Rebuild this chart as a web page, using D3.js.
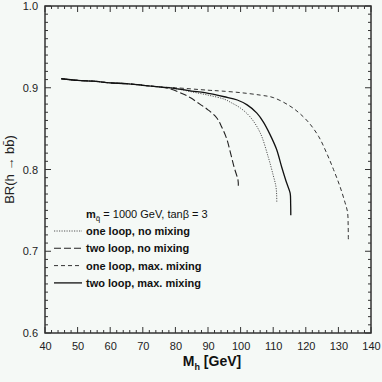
<!DOCTYPE html>
<html>
<head>
<meta charset="utf-8">
<script src="https://cdn.jsdelivr.net/npm/d3@7"></script>
<style>
  body { margin: 0; background: #f5f9f6; }
  svg { display: block; font-family: "Liberation Sans", Arial, sans-serif; }
</style>
</head>
<body>
<div id="chart"></div>
<script>
// set the dimensions and margins of the graph
var margin = {top: 6, right: 11, bottom: 49, left: 45},
    width = 382 - margin.left - margin.right,
    height = 382 - margin.top - margin.bottom;

// data: [M_h, BR]
var oneLoopNoMix = [[45,0.911],[50,0.909],[55,0.908],[60,0.906],[65,0.905],[70,0.903],[75,0.901],[80,0.899],
  [85,0.895],[90,0.891],[95,0.886],[97,0.882],[100,0.875],[103,0.864],[106,0.845],[108.5,0.815],
  [110,0.793],[110.8,0.780],[111.05,0.770],[111.1,0.759]];
var twoLoopNoMix = [[45,0.911],[50,0.909],[55,0.908],[60,0.906],[65,0.905],[70,0.903],[75,0.901],[78,0.899],
  [82,0.893],[84.5,0.888],[87.5,0.880],[90,0.873],[92.7,0.863],[94.2,0.852],[95.7,0.838],[96.8,0.822],
  [98,0.803],[99.2,0.787],[99.3,0.780]];
var oneLoopMaxMix = [[45,0.911],[50,0.909],[55,0.908],[60,0.906],[65,0.905],[70,0.903],[75,0.901],[80,0.900],
  [90,0.897],[94,0.896],[100,0.894],[106,0.891],[110,0.888],[115,0.878],[118,0.869],[121,0.857],
  [124,0.840],[126.4,0.820],[128.5,0.800],[130.5,0.779],[132,0.760],[132.8,0.748],[133,0.730],[133.05,0.712]];
var twoLoopMaxMix = [[45,0.911],[50,0.909],[55,0.908],[60,0.906],[65,0.905],[70,0.903],[75,0.901],[80,0.899],
  [85,0.896],[89,0.894],[95,0.889],[99,0.885],[102,0.879],[105,0.869],[107,0.858],[109,0.843],
  [111,0.825],[112.6,0.803],[114,0.785],[115.2,0.771],[115.35,0.758],[115.4,0.744]];

var seriesNames = ["one loop, no mixing", "two loop, no mixing", "one loop, max. mixing", "two loop, max. mixing"];
var seriesData = [oneLoopNoMix, twoLoopNoMix, oneLoopMaxMix, twoLoopMaxMix];
var dashes = ["1.2,1.3", "7,3", "4,3", null];
var strokes = ["#555", "#222", "#333", "#111"];
var widths = [1, 1.1, 1, 1.3];

var xTicks = [40,50,60,70,80,90,100,110,120,130,140];
var yTicks = [0.6,0.7,0.8,0.9,1.0];

var svg = d3.select("#chart")
  .append("svg")
    .attr("width", width + margin.left + margin.right)
    .attr("height", height + margin.top + margin.bottom)
  .append("g")
    .attr("transform", "translate(" + margin.left + "," + margin.top + ")");

var x = d3.scaleLinear().domain([40, 140]).range([0, width]);
var y = d3.scaleLinear().domain([0.6, 1.0]).range([height, 0]);

// ticks on all four sides, pointing inward
var xMinor = d3.range(40, 140.1, 2);
var yMinor = d3.range(0.6, 1.0001, 0.01);

function tickAxes() {
  var g = svg.append("g").attr("class", "ticks").attr("stroke", "#333").attr("stroke-width", 1);
  xMinor.forEach(function(v) {
    var major = Math.abs(v % 10) < 1e-6;
    var len = major ? 6 : 3;
    g.append("line").attr("x1", x(v)).attr("x2", x(v)).attr("y1", height).attr("y2", height - len);
    g.append("line").attr("x1", x(v)).attr("x2", x(v)).attr("y1", 0).attr("y2", len);
  });
  yMinor.forEach(function(v, i) {
    var major = i % 10 === 0;
    var len = major ? 6 : 3;
    g.append("line").attr("y1", y(v)).attr("y2", y(v)).attr("x1", 0).attr("x2", len);
    g.append("line").attr("y1", y(v)).attr("y2", y(v)).attr("x1", width).attr("x2", width - len);
  });
}
tickAxes();

// tick labels via d3 axes
svg.append("g")
  .attr("transform", "translate(0," + height + ")")
  .call(d3.axisBottom(x).tickValues(xTicks).tickSize(0).tickPadding(9).tickFormat(d3.format("d")))
  .call(function(g) { g.select(".domain").remove(); })
  .selectAll("text").attr("font-size", 11).attr("fill", "#222");

svg.append("g")
  .call(d3.axisLeft(y).tickValues(yTicks).tickSize(0).tickPadding(7).tickFormat(d3.format(".1f")))
  .call(function(g) { g.select(".domain").remove(); })
  .selectAll("text").attr("font-size", 11).attr("fill", "#222");

// frame
svg.append("rect")
  .attr("width", width).attr("height", height)
  .attr("fill", "none").attr("stroke", "#333").attr("stroke-width", 1.5);

// curves
var line = d3.line()
  .x(function(d) { return x(d[0]); })
  .y(function(d) { return y(d[1]); })
  .curve(d3.curveCatmullRom.alpha(0.5));

svg.selectAll(".curve")
  .data(seriesData)
  .enter().append("path")
    .attr("class", "curve")
    .attr("d", line)
    .attr("fill", "none")
    .attr("stroke", function(d, i) { return strokes[i]; })
    .attr("stroke-width", function(d, i) { return widths[i]; })
    .attr("stroke-dasharray", function(d, i) { return dashes[i]; });

// legend
var legend = svg.append("g").attr("transform", "translate(9,212)");
var head = legend.append("text").attr("x", 32).attr("y", 0)
  .attr("font-size", 11).attr("fill", "#111");
head.append("tspan").attr("font-weight", "bold").text("m");
head.append("tspan").attr("font-size", 8).attr("dy", 3).text("q\u0303");
head.append("tspan").attr("dy", -3).text(" = 1000 GeV, tan\u03b2 = 3");

var items = legend.selectAll(".item")
  .data(seriesNames)
  .enter().append("g")
    .attr("class", "item")
    .attr("transform", function(d, i) { return "translate(0," + (17 + i * 17.3) + ")"; });

items.append("line")
  .attr("x1", 0).attr("x2", 28).attr("y1", -4).attr("y2", -4)
  .attr("stroke", function(d, i) { return strokes[i]; })
  .attr("stroke-width", function(d, i) { return widths[i]; })
  .attr("stroke-dasharray", function(d, i) { return dashes[i]; });

items.append("text")
  .attr("x", 32).attr("y", 0)
  .attr("font-size", 11).attr("font-weight", "bold").attr("fill", "#111")
  .text(function(d) { return d; });

// axis titles
var xt = svg.append("text")
  .attr("x", width / 2 + 4).attr("y", height + 33)
  .attr("text-anchor", "middle").attr("font-size", 14).attr("font-weight", "bold").attr("fill", "#111");
xt.append("tspan").text("M");
xt.append("tspan").attr("font-size", 9).attr("dy", 4).text("h");
xt.append("tspan").attr("dy", -4).text(" [GeV]");

svg.append("text")
  .attr("transform", "translate(-31," + (height / 2) + ") rotate(-90)")
  .attr("text-anchor", "middle").attr("font-size", 13).attr("fill", "#222")
  .text("BR(h \u2192 b\u0062\u0304)");
</script>
</body>
</html>
